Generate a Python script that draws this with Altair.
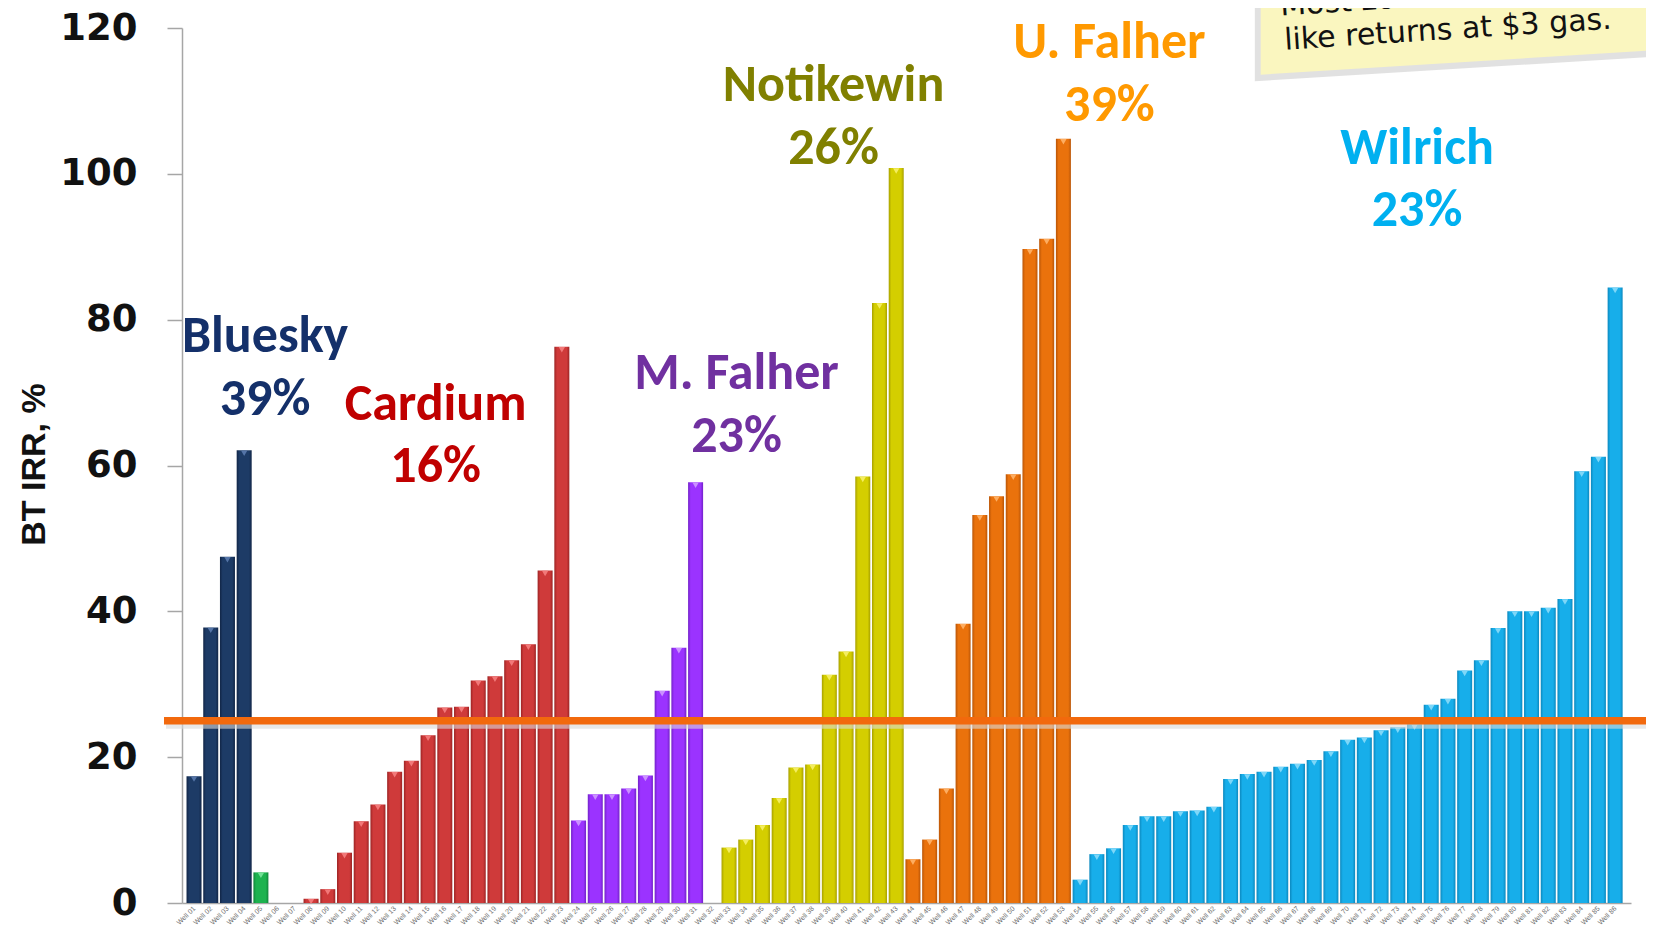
import json
import altair as alt
import pandas as pd

# ---------------- data ----------------
bluesky   = [17.4, 37.8, 47.5, 62.1]
other     = [4.2]
cardium   = [0.6, 1.9, 6.9, 11.2, 13.5, 18.0, 19.5, 23.0, 26.8, 26.9,
             30.5, 31.1, 33.3, 35.5, 45.6, 76.3]
m_falher  = [11.3, 14.9, 14.9, 15.7, 17.5, 29.1, 35.0, 57.7]
notikewin = [7.6, 8.7, 10.7, 14.4, 18.6, 19.0, 31.3, 34.5, 58.5, 82.3, 100.8]
u_falher  = [6.0, 8.7, 15.7, 38.3, 53.2, 55.8, 58.8, 89.7, 91.1, 104.8]
wilrich   = [3.2, 6.7, 7.5, 10.7, 11.9, 11.9, 12.6, 12.7, 13.2, 17.0, 17.7,
             18.0, 18.7, 19.1, 19.6, 20.8, 22.4, 22.7, 23.7, 24.1, 24.5, 27.2,
             28.0, 31.9, 33.3, 37.7, 40.0, 40.0, 40.5, 41.7, 59.2, 61.2, 84.4]

zone_names = ["Bluesky", "Other", "Cardium", "M. Falher", "Notikewin", "U. Falher", "Wilrich"]
zone_median = ["39%", "", "16%", "23%", "26%", "39%", "23%"]

hurdle_rate = [25]

# well order along the x axis (None = well with no result)
irr_values = (bluesky + other + [None, None] + cardium + m_falher + [None]
              + notikewin + u_falher + wilrich)
zone_of_well = (["Bluesky"] * len(bluesky) + ["Other"] * len(other) + ["", ""]
                + ["Cardium"] * len(cardium) + ["M. Falher"] * len(m_falher) + [""]
                + ["Notikewin"] * len(notikewin) + ["U. Falher"] * len(u_falher)
                + ["Wilrich"] * len(wilrich))
well_labels = [f"Well {i + 1:02d}" for i in range(len(irr_values))]

note_lines = ["Most zones", "like returns at $3 gas."]

# ---------------- styling ----------------
bar_base = {"Bluesky": "#1D3B66", "Other": "#1DB34F", "Cardium": "#CF3A3A",
            "M. Falher": "#9B33FF", "Notikewin": "#D4CE00", "U. Falher": "#EA720C",
            "Wilrich": "#17AEEA"}
bar_dark = {"Bluesky": "#112546", "Other": "#11843A", "Cardium": "#9C2424",
            "M. Falher": "#7222C8", "Notikewin": "#A7A000", "U. Falher": "#B95507",
            "Wilrich": "#0C88BE"}
bar_cap = {"Bluesky": "#5B7BAE", "Other": "#7BE59C", "Cardium": "#F58080",
           "M. Falher": "#CF9BFF", "Notikewin": "#F7F16A", "U. Falher": "#FFB46A",
           "Wilrich": "#8ADCFA"}
label_color = {"Bluesky": "#14306A", "Cardium": "#C00000", "M. Falher": "#7030A0",
               "Notikewin": "#808000", "U. Falher": "#FF9900", "Wilrich": "#00B0F0"}

# annotation anchors (x in well-slot units, y in IRR units)
ann_x = {"Bluesky": 4.25, "Cardium": 14.45, "M. Falher": 32.45,
         "Notikewin": 38.25, "U. Falher": 54.75, "Wilrich": 73.15}
ann_y = {"Bluesky": 75.5, "Cardium": 66.3, "M. Falher": 70.5,
         "Notikewin": 110.0, "U. Falher": 115.9, "Wilrich": 101.4}
line_gap = 8.6

df = pd.DataFrame({"slot": list(range(len(irr_values))), "irr": irr_values,
                   "zone": zone_of_well})
df = df[df["irr"].notna()]

W, H = 1449, 875
xscale = alt.Scale(domain=[-0.42, 85.65], nice=False, zero=False)
yscale = alt.Scale(domain=[0, 120], nice=False)

label_expr = json.dumps(well_labels) + "[datum.value]"
xaxis = alt.Axis(values=list(range(len(irr_values))), labelExpr=label_expr,
                 labelAngle=315, labelAlign="right", labelBaseline="middle",
                 labelFontSize=7, labelColor="#6E6E6E", labelPadding=4,
                 ticks=False, grid=False, domainColor="#A6A6A6", domainWidth=1.5,
                 title=None, labelOverlap=False, labelFont="Liberation Sans")
yaxis = alt.Axis(values=[0, 20, 40, 60, 80, 100, 120], grid=False,
                 tickSize=15, tickColor="#A6A6A6", tickWidth=1.5,
                 domainColor="#A6A6A6", domainWidth=1.5,
                 labelFont="DejaVu Sans", labelFontSize=37,
                 labelFontWeight="bold", labelColor="#111111", labelPadding=30,
                 title="BT IRR, %", titleFont="Liberation Sans",
                 titleFontSize=34, titleFontWeight="bold", titleColor="#111111",
                 titleAngle=270, titleX=-148, titleY=436,
                 titleAlign="center", titleBaseline="middle")

X = alt.X("slot:Q", scale=xscale, axis=xaxis)
Y = alt.Y("irr:Q", scale=yscale, axis=yaxis)

layers = []

# sticky note (shadow + paper)
note_df = pd.DataFrame({"slot": [63.8, 89.0], "irr": [113.6, 117.2], "top": [126, 126]})
shadow_df = pd.DataFrame({"slot": [63.45, 89.0], "irr": [112.7, 116.3], "top": [126, 126]})
layers.append(alt.Chart(shadow_df).mark_area(color="#D4D4D4", opacity=0.7).encode(
    x=X, y=Y, y2="top:Q"))
layers.append(alt.Chart(note_df).mark_area(color="#FAF6BF").encode(
    x=X, y=Y, y2="top:Q"))
note_text1 = pd.DataFrame({"slot": [65.0], "irr": [121.7], "txt": [note_lines[0]]})
note_text2 = pd.DataFrame({"slot": [75.0], "irr": [119.7], "txt": [note_lines[1]]})
layers.append(alt.Chart(note_text1).mark_text(
    font="DejaVu Sans", fontSize=30, color="#111111", align="left",
    baseline="alphabetic", angle=356.3).encode(x=X, y=Y, text="txt:N"))
layers.append(alt.Chart(note_text2).mark_text(
    font="DejaVu Sans", fontSize=30, color="#111111", align="center",
    baseline="middle", angle=356.3).encode(x=X, y=Y, text="txt:N"))

# bars, one layer per zone so each gets its own cylinder-like gradient
for z in zone_names:
    sub = df[df["zone"] == z]
    grad = alt.Gradient(gradient="linear", x1=0, x2=1, y1=0, y2=0,
                        stops=[alt.GradientStop(offset=0, color=bar_dark[z]),
                               alt.GradientStop(offset=0.18, color=bar_base[z]),
                               alt.GradientStop(offset=0.82, color=bar_base[z]),
                               alt.GradientStop(offset=1, color=bar_dark[z])])
    layers.append(alt.Chart(sub).mark_bar(size=15, color=grad).encode(x=X, y=Y))
    layers.append(alt.Chart(sub).mark_point(shape="triangle-down", filled=True,
                                            size=40, opacity=0.9, color=bar_cap[z],
                                            yOffset=3).encode(x=X, y=Y))

# 25 % hurdle line (with a soft shadow)
hurdle_df = pd.DataFrame({"irr": hurdle_rate})
layers.append(alt.Chart(hurdle_df).mark_rule(color="#D9D9D9", strokeWidth=6,
                                             opacity=0.6).encode(
    y=alt.Y("irr:Q", scale=yscale, axis=yaxis), x=alt.value(-16), x2=alt.value(1480),
    yOffset=alt.value(5)))
layers.append(alt.Chart(hurdle_df).mark_rule(color="#F2690D", strokeWidth=7.5).encode(
    y=alt.Y("irr:Q", scale=yscale, axis=yaxis), x=alt.value(-18), x2=alt.value(1480)))

# zone annotations
ann_rows = []
for z, med in zip(zone_names, zone_median):
    if z not in ann_x:
        continue
    ann_rows.append({"slot": ann_x[z], "irr": ann_y[z], "txt": z, "zone": z})
    ann_rows.append({"slot": ann_x[z], "irr": ann_y[z] - line_gap, "txt": med, "zone": z})
ann_df = pd.DataFrame(ann_rows)
ann_zones = [z for z in zone_names if z in ann_x]
layers.append(alt.Chart(ann_df).mark_text(font="Carlito, Lato", fontSize=52,
                                          fontWeight=900, align="center",
                                          baseline="alphabetic").encode(
    x=X, y=Y, text="txt:N",
    color=alt.Color("zone:N", legend=None,
                    scale=alt.Scale(domain=ann_zones,
                                    range=[label_color[z] for z in ann_zones]))))

chart = alt.layer(*layers).properties(
    width=W, height=H,
    padding={"left": 174, "top": 20, "right": 15, "bottom": 27},
    autosize=alt.AutoSizeParams(type="none"),
    background="white",
).configure_view(stroke=None)

chart.save("out.html", embed_options={"renderer": "svg", "actions": False})
